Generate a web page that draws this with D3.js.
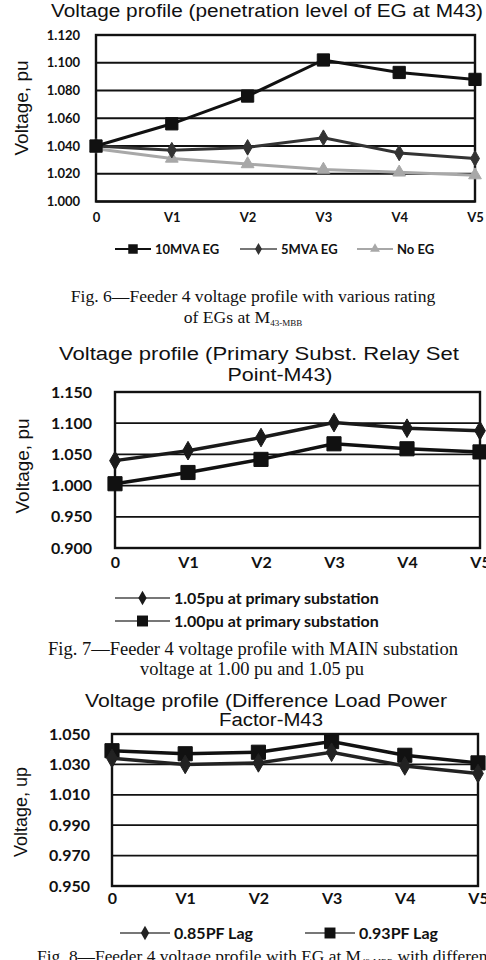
<!DOCTYPE html>
<html>
<head>
<meta charset="utf-8">
<script src="https://cdn.jsdelivr.net/npm/d3@7"></script>
<style>
  body { margin: 0; background: #fff; }
  svg { display: block; }
  .tick-lbl { font-family: Lato, "Open Sans", sans-serif; font-weight: 700; fill: #111; }
  .ttl { font-family: "Liberation Sans", Arial, sans-serif; fill: #111; }
  .cap { font-family: "Liberation Serif", "Times New Roman", serif; fill: #111; }
</style>
</head>
<body>
<svg id="chart" width="486" height="960"></svg>
<script>
// shared x categories
const categories = ["0", "V1", "V2", "V3", "V4", "V5"];

// Fig. 6 - penetration level of EG
const fig6Ticks = [1.000, 1.020, 1.040, 1.060, 1.080, 1.100, 1.120];
const fig6Mva10 = [1.040, 1.056, 1.076, 1.102, 1.093, 1.088];
const fig6Mva5  = [1.040, 1.037, 1.039, 1.046, 1.035, 1.031];
const fig6NoEg  = [1.038, 1.031, 1.027, 1.023, 1.021, 1.019];

// Fig. 7 - primary substation set point
const fig7Ticks = [0.900, 0.950, 1.000, 1.050, 1.100, 1.150];
const fig7Pu105 = [1.040, 1.056, 1.077, 1.101, 1.092, 1.088];
const fig7Pu100 = [1.003, 1.021, 1.042, 1.067, 1.059, 1.054];

// Fig. 8 - load power factor
const fig8Ticks = [0.950, 0.970, 0.990, 1.010, 1.030, 1.050];
const fig8Pf085 = [1.034, 1.030, 1.031, 1.038, 1.029, 1.024];
const fig8Pf093 = [1.039, 1.037, 1.038, 1.045, 1.036, 1.031];

const svg = d3.select("#chart");

function drawChart(cfg) {
    const g = svg.append("g");

    const x = d3.scalePoint().domain(categories).range([cfg.left, cfg.right]);
    const y = d3.scaleLinear()
        .domain(d3.extent(cfg.ticks))
        .range([cfg.bottom, cfg.top]);

    // title lines (the scan is a bit stretched sideways, so force the width)
    cfg.title.forEach(t => {
        g.append("text").attr("class", "ttl")
            .attr("x", t.x).attr("y", t.y)
            .attr("text-anchor", "middle")
            .attr("textLength", t.w)
            .attr("lengthAdjust", "spacingAndGlyphs")
            .style("font-size", "18px")
            .text(t.text);
    });

    // gridlines
    g.selectAll(".grid")
        .data(cfg.ticks)
        .enter().append("line")
        .attr("x1", cfg.left).attr("x2", cfg.right)
        .attr("y1", d => y(d)).attr("y2", d => y(d))
        .attr("stroke", "#111")
        .attr("stroke-width", 1.8);

    // frame
    g.append("rect")
        .attr("x", cfg.left).attr("y", cfg.top)
        .attr("width", cfg.right - cfg.left)
        .attr("height", cfg.bottom - cfg.top)
        .attr("fill", "none")
        .attr("stroke", "#111")
        .attr("stroke-width", 2.4);

    // y axis labels
    const yAxis = g.append("g")
        .attr("transform", `translate(${cfg.left}, 0)`)
        .call(d3.axisLeft(y).tickValues(cfg.ticks).tickFormat(d3.format(".3f")).tickSize(0).tickPadding(cfg.left - cfg.yLabelX));
    yAxis.select(".domain").remove();
    yAxis.selectAll("text")
        .attr("class", "tick-lbl")
        .style("font-size", cfg.tickFont + "px")
        .attr("fill", null);

    // x axis labels
    const xAxis = g.append("g")
        .attr("transform", `translate(0, ${cfg.bottom})`)
        .call(d3.axisBottom(x).tickSize(0).tickPadding(cfg.xLabelY - cfg.bottom));
    xAxis.select(".domain").remove();
    xAxis.selectAll("text")
        .attr("class", "tick-lbl")
        .style("font-size", cfg.tickFont + "px")
        .attr("fill", null)
        .attr("dy", "0");

    // y axis title
    g.append("text").attr("class", "ttl")
        .attr("transform", `translate(${cfg.yTitle.x}, ${cfg.yTitle.y}) rotate(-90)`)
        .attr("text-anchor", "middle")
        .style("font-size", cfg.yTitle.size + "px")
        .text(cfg.yTitle.text);

    const line = d3.line()
        .x((d, i) => x(categories[i]))
        .y(d => y(d));

    // series, drawn last first so the first one sits on top
    cfg.series.slice().reverse().forEach(s => {
        g.append("path")
            .datum(s.values)
            .attr("d", line)
            .attr("fill", "none")
            .attr("stroke", s.color)
            .attr("stroke-width", cfg.lineWidth);

        g.selectAll(null)
            .data(s.values)
            .enter().append("path")
            .attr("transform", (d, i) => `translate(${x(categories[i])}, ${y(d)})`)
            .attr("d", d3.symbol().type(s.symbol).size(s.size))
            .attr("fill", s.color)
            .attr("stroke", s.color)
            .attr("stroke-width", 1);
    });

    // legend
    cfg.series.forEach(s => {
        const lg = g.append("g").attr("transform", `translate(${s.legend.x}, ${s.legend.y})`);
        lg.append("line")
            .attr("x1", 0).attr("x2", s.legend.len)
            .attr("stroke", s.legendColor || s.color)
            .attr("stroke-width", 2);
        lg.append("path")
            .attr("transform", `translate(${s.legend.len / 2}, 0)`)
            .attr("d", d3.symbol().type(s.symbol).size(s.size * 0.6))
            .attr("fill", s.color);
        lg.append("text")
            .attr("class", "tick-lbl")
            .attr("x", s.legend.len + 4)
            .attr("dy", "0.36em")
            .style("font-size", cfg.legendFont + "px")
            .text(s.name);
    });

    // caption
    cfg.caption.forEach(c => {
        const t = g.append("text").attr("class", "cap")
            .attr("x", c.x).attr("y", c.y)
            .attr("text-anchor", c.anchor || "middle")
            .style("font-size", c.size + "px");
        t.append("tspan").text(c.text);
        if (c.sub) {
            t.append("tspan").attr("dy", 3).style("font-size", "9px").text(c.sub);
            if (c.after) t.append("tspan").attr("dy", -3).text(c.after);
        }
    });
}

drawChart({
    left: 96, right: 475, top: 35, bottom: 201.5, lineWidth: 3,
    ticks: fig6Ticks, yLabelX: 80, xLabelY: 222, tickFont: 13, legendFont: 13,
    title: [{ text: "Voltage profile (penetration level of EG at M43)", x: 267, y: 17, w: 432 }],
    yTitle: { text: "Voltage, pu", x: 28, y: 108, size: 19 },
    series: [
        { name: "10MVA EG", values: fig6Mva10, color: "#111", symbol: d3.symbolSquare, size: 150,
          legend: { x: 115, y: 249, len: 36 } },
        { name: "5MVA EG", values: fig6Mva5, color: "#333", symbol: d3.symbolDiamond, size: 70,
          legendColor: "#777", legend: { x: 240, y: 249, len: 37 } },
        { name: "No EG", values: fig6NoEg, color: "#a8a8a8", symbol: d3.symbolTriangle, size: 70,
          legend: { x: 357, y: 249, len: 36 } }
    ],
    caption: [
        { text: "Fig. 6\u2014Feeder 4 voltage profile with various rating", x: 253, y: 302, size: 17.6 },
        { text: "of EGs at M", sub: "43-MBB", x: 243, y: 323, size: 17.6 }
    ]
});

drawChart({
    left: 115, right: 480, top: 392, bottom: 548, lineWidth: 3.5,
    ticks: fig7Ticks, yLabelX: 92, xLabelY: 568, tickFont: 16, legendFont: 16,
    title: [
        { text: "Voltage profile (Primary Subst. Relay Set", x: 259, y: 360, w: 400 },
        { text: "Point-M43)", x: 280, y: 381, w: 105 }
    ],
    yTitle: { text: "Voltage, pu", x: 29, y: 466, size: 19 },
    series: [
        { name: "1.05pu at primary substation", values: fig7Pu105, color: "#1a1a1a", symbol: d3.symbolDiamond, size: 100,
          legendColor: "#777", legend: { x: 115, y: 598, len: 55 } },
        { name: "1.00pu at primary substation", values: fig7Pu100, color: "#111", symbol: d3.symbolSquare, size: 200,
          legendColor: "#777", legend: { x: 115, y: 621, len: 55 } }
    ],
    caption: [
        { text: "Fig. 7\u2014Feeder 4 voltage profile with MAIN substation", x: 253, y: 655, size: 18.5 },
        { text: "voltage at 1.00 pu and 1.05 pu", x: 252, y: 675, size: 18.5 }
    ]
});

drawChart({
    left: 112, right: 478, top: 734, bottom: 886, lineWidth: 3.5,
    ticks: fig8Ticks, yLabelX: 90, xLabelY: 904, tickFont: 16, legendFont: 16,
    title: [
        { text: "Voltage  profile (Difference Load Power", x: 266, y: 707, w: 362 },
        { text: "Factor-M43", x: 271, y: 726, w: 104 }
    ],
    yTitle: { text: "Voltage, up", x: 27, y: 812, size: 18 },
    series: [
        { name: "0.85PF Lag", values: fig8Pf085, color: "#222", symbol: d3.symbolDiamond, size: 100,
          legendColor: "#777", legend: { x: 120, y: 933, len: 50 } },
        { name: "0.93PF Lag", values: fig8Pf093, color: "#111", symbol: d3.symbolSquare, size: 200,
          legendColor: "#777", legend: { x: 305, y: 933, len: 50 } }
    ],
    caption: [
        { text: "Fig. 8\u2014Feeder 4 voltage profile with EG at M", sub: "43-MBB", after: " with differen", x: 37, y: 962, size: 17.4, anchor: "start" }
    ]
});
</script>
</body>
</html>
